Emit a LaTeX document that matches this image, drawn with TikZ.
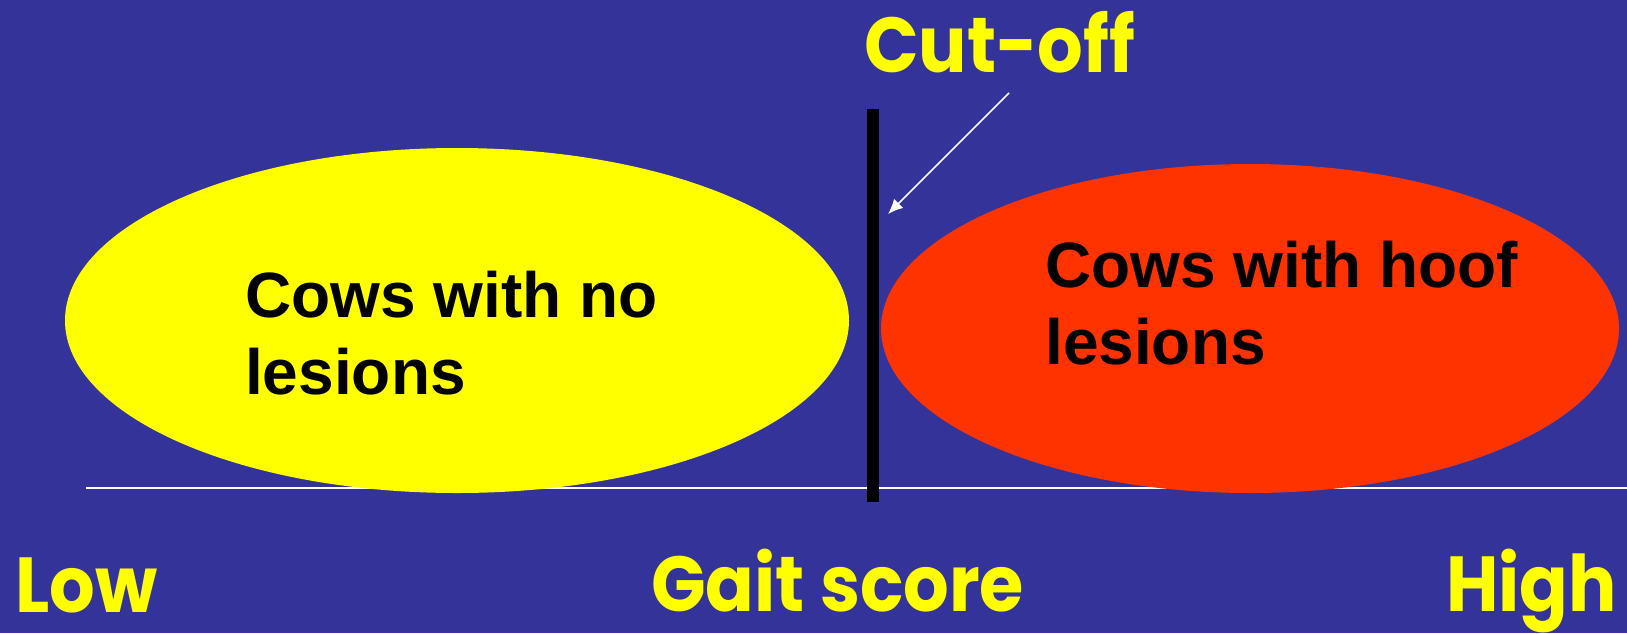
\documentclass[tikz,border=0pt]{standalone}
\usepackage{fontspec}
\usetikzlibrary{arrows.meta}
\setmainfont{Liberation Sans}
\newfontfamily\comicfont{Poppins}
\definecolor{bgblue}{HTML}{333399}
\definecolor{lesred}{HTML}{FF3300}
\definecolor{hiyel}{HTML}{FFFF00}
\begin{document}
\begin{tikzpicture}[x=1pt,y=-1pt,
  bodytext/.style={inner sep=0pt,anchor=base west,font=\fontsize{64}{77}\selectfont\bfseries,align=left,text=black},
  labeltext/.style={inner sep=0pt,text=hiyel,font=\fontsize{78}{90}\selectfont\comicfont\bfseries,xscale=0.92,transform shape},
]
\fill[bgblue] (0,0) rectangle (1627,633);
\useasboundingbox (0,0) rectangle (1627,633);
% axis line
\coordinate (axL) at (86,488);
\coordinate (axR) at (1627,488);
\draw[white,line width=2pt] (axL) -- (axR);
% ellipses
\fill[hiyel] (457,320.5) ellipse [x radius=392,y radius=172.5];
\fill[lesred] (1250,328.5) ellipse [x radius=369,y radius=164.5];
% cut-off bar
\fill[black] (867,109) rectangle (879,502);
% texts
\node[bodytext] (no1) at (245,317) {Cows with no};
\node[bodytext] (no2) at (245,394) {lesions};
\node[bodytext] (yes1) at (1045,287) {Cows with hoof};
\node[bodytext] (yes2) at (1045,364) {lesions};
\node[labeltext,anchor=base west] (cut) at (864,72) {Cut-off};
\node[labeltext,anchor=base west] (low) at (15,612) {Low};
\node[labeltext,anchor=base west] (gait) at (651,611) {Gait score};
\node[labeltext,anchor=base east] (high) at (1617,611) {High};
% arrow
\coordinate (arS) at (1009,93);
\coordinate (arT) at (888,214);
\draw[white,line width=1.5pt,-{Latex[length=15pt,width=13pt]}] (arS) -- (arT);
\end{tikzpicture}
\end{document}
